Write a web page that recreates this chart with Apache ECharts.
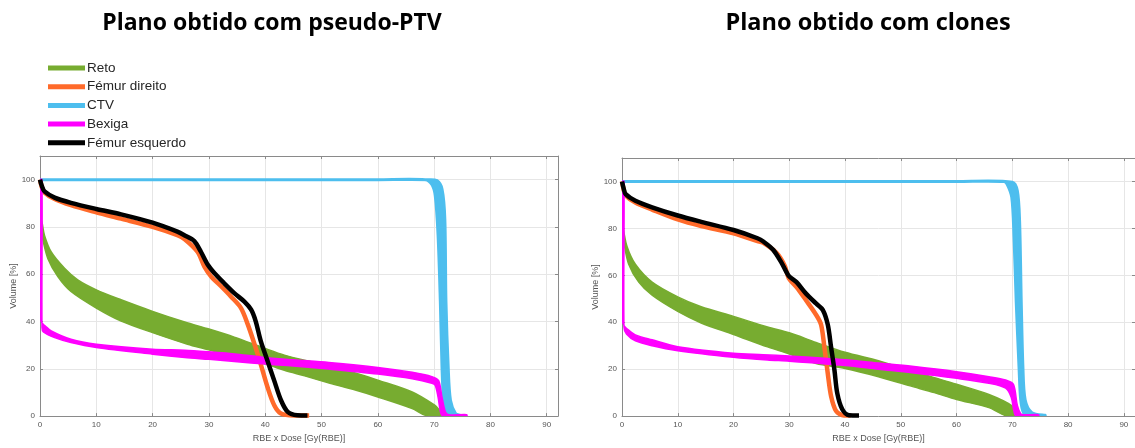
<!DOCTYPE html>
<html>
<head>
<meta charset="utf-8">
<script src="https://cdn.jsdelivr.net/npm/echarts@6/dist/echarts.min.js"></script>
<style>
  html, body { margin: 0; padding: 0; background: #ffffff; }
  #chart { width: 1135px; height: 448px; }
</style>
</head>
<body>
<div id="chart"></div>
<script>
// Panel titles and structure names
const panelTitles = ['Plano obtido com pseudo-PTV', 'Plano obtido com clones'];
const structures = ['Reto', 'Fémur direito', 'CTV', 'Bexiga', 'Fémur esquerdo'];
const xTicks = [0, 10, 20, 30, 40, 50, 60, 70, 80, 90];
const yTicks = [0, 20, 40, 60, 80, 100];

// ---- Plan with pseudo-PTV: [dose Gy(RBE), volume %] ----
// Reto: upper and lower envelope of the scenario band
const ptvRetoUpper = [[0,84],[0.35,82],[0.8,76.4],[2,69.4],[4.4,62.4],[6.7,57.6],[10,53.4],[14.4,49.2],[20,44.3],[25.7,39.8],[30,36.8],[34.5,33.4],[40,28.6],[43.4,25.8],[47,23.6],[51.5,21.2],[56,18.2],[60,15.2],[66.1,10.2],[70.1,4.6],[71,2.4],[71.7,0.4]];
const ptvRetoLower = [[0,79],[0.4,75.5],[1.4,66.6],[3.2,58.9],[5.5,52.7],[10,45.7],[14.4,40.2],[20,35.3],[26.2,30.4],[30,28],[34.5,24.8],[40,22],[43.4,19.4],[47,17],[51.5,13.9],[56,11],[60,8.1],[66.1,3.2],[68.5,0.3]];
// Fémur direito / Fémur esquerdo: narrow bands drawn as thick lines
const ptvFemurDir = [[0,100],[0.3,97],[0.8,94.5],[2.6,91.8],[5.5,89.2],[10,86.2],[14.4,83.5],[20,80],[24.4,76.5],[25.7,74.8],[28,69.4],[29.2,63.2],[30.4,59],[32.2,54.8],[33.9,50.6],[35.7,45.7],[36.9,38.8],[38.1,30.4],[39.2,22],[40.4,12.3],[41.6,4.6],[42.8,1.1],[45.1,0.3],[47.8,0.3]];
const ptvFemurEsq = [[0,100],[0.3,97.5],[0.8,95],[2.6,92.4],[5.5,90.2],[10,87.6],[14.4,85.3],[20,81.8],[24.4,78],[25.7,76.4],[27.4,74],[28.6,69.4],[29.8,64],[31,60.4],[32.7,56.2],[34.5,52],[36.3,48.4],[37.5,45],[38.3,40.2],[39.2,31.8],[40.4,23.4],[41.6,15],[42.8,6.7],[44,1.8],[45.7,0.4],[47.5,0.3]];
// CTV: right (high-dose) and left (low-dose) edges of the band
const ptvCtvUpper = [[0,100],[20,100],[40,100],[60,100],[69,100],[70.5,99.6],[71.4,96],[71.9,83.4],[72.1,48.5],[72.5,20.6],[72.9,6.7],[73.8,1.1],[74.6,0.3]];
const ptvCtvLower = [[0,100],[20,100],[40,100],[60,100],[68.4,100],[69.6,98],[70.2,93.2],[70.7,76.4],[71.1,48.5],[71.4,20.6],[71.7,6.7],[72.3,1.1],[73.2,0]];
// Bexiga
const ptvBexigaUpper = [[0,100],[0,42],[0.3,39.5],[0.9,38.2],[2,36],[5.5,32.5],[10,30.4],[20,28.3],[25.7,27.9],[30,27.2],[35,26.2],[40,24.8],[45,23.8],[51.3,22.7],[60,20.6],[66.1,18.5],[69.6,16.7],[70.8,15],[71.4,8],[72,1.8],[72.6,0.6],[75.8,0.6]];
const ptvBexigaLower = [[0.35,100],[0.35,37.5],[0.6,35.6],[2.6,33.2],[5.5,31.1],[10,29],[20,26.2],[25.7,24.8],[30,24],[35,23],[40,22],[45,21.2],[51.3,19.9],[60,17.8],[66.1,15.8],[69.6,13.9],[70.2,13],[70.7,8],[71.2,1.1],[71.7,0],[75.8,0]];

// ---- Plan with clones ----
const clnRetoUpper = [[0,82],[0.2,80],[0.9,72.3],[2.4,64.7],[5.4,57.1],[10,50.8],[14.2,46.6],[20,42.5],[26.1,38],[30,35.5],[34.8,31.4],[40,27.2],[46,23.6],[51.5,19.5],[56,16.4],[60,13.6],[65.8,9.2],[70,4.3],[71.2,0.3]];
const clnRetoLower = [[0,78],[0.3,74.3],[1.2,64.7],[3,57.1],[5.4,51.5],[10,44.6],[14.2,39.7],[20,34.8],[26.1,29.5],[30,26.5],[34.8,22.4],[40,20.3],[46,16.8],[51.5,13],[56,10],[60,7.1],[65.8,3.6],[68.8,0.2]];
const clnFemurDir = [[0,100],[0.3,96.5],[0.65,94],[2.4,91],[5.4,88],[10,83.8],[14.2,81],[20,77.9],[24.3,74.6],[25.35,73.8],[27.7,69.6],[29.2,64],[29.9,58.8],[31.3,55],[33,49.4],[34.8,43.2],[35.7,39],[36.3,29.3],[36.9,18.2],[37.5,8.5],[38.4,2.2],[39.8,0.3],[41,0.3]];
const clnFemurEsq = [[0,100],[0.3,97],[0.65,94.6],[2.4,91.8],[5.4,89],[10,85.5],[14.2,82.8],[20,79.3],[24.3,75.8],[25.35,74.4],[27.1,70.9],[28.6,65.4],[29.9,59.8],[31.3,57.1],[33,52.2],[34.8,48],[36,45.3],[36.9,39],[37.5,29.3],[38.1,19.6],[38.6,9.8],[39.5,2.9],[40.7,0.4],[42.5,0.3]];
const clnCtvUpper = [[0,100],[20,100],[40,100],[60,100],[70,99.7],[70.9,96],[71.3,83.4],[71.6,48.7],[71.9,20.9],[72.3,7],[73.5,1.5],[75.9,0.3]];
const clnCtvLower = [[0,100],[20,100],[40,100],[60,100],[68.5,100],[69.1,98.7],[69.9,93.2],[70.3,76.4],[70.7,48.5],[71.2,20.9],[71.5,7],[72,1.5],[72.9,0]];
const clnBexigaUpper = [[0,100],[0,41],[0.4,38.5],[1,37],[2.4,34.6],[5.4,32.5],[10,29.6],[20,26.8],[25.3,26.2],[30,25.6],[40,24],[46,22.6],[52,21.2],[60,18.9],[65.8,16.8],[68.8,15.4],[70.2,13.5],[70.9,4.5],[71.5,1],[72,0.6],[74.7,0.6]];
const clnBexigaLower = [[0.35,100],[0.35,38],[0.8,35],[2.4,32.1],[5.4,30],[10,27.9],[20,25.1],[26.1,23.9],[30,23.4],[40,21.6],[46,20],[52,18.5],[60,16.1],[65.8,14],[68.8,11.9],[69.8,8],[70.3,2],[70.7,0],[74.7,0]];

const colors = {
  'Reto': '#77ac30',
  'Fémur direito': '#ff6a2a',
  'CTV': '#4dbeee',
  'Bexiga': '#ff00ff',
  'Fémur esquerdo': '#000000'
};

const chart = echarts.init(document.getElementById('chart'), null, { renderer: 'canvas' });

const gridBox = [
  { left: 40, top: 156, width: 518, height: 263 },
  { left: 622, top: 158, width: 519, height: 264 }
];

const labelFont = 'Liberation Sans, Arial, sans-serif';
const boxColor = '#8a8a8a';

function mainX(gi) {
  return {
    type: 'value', gridIndex: gi, position: 'bottom', min: 0, max: 92, interval: 10,
    name: 'RBE x Dose [Gy(RBE)]', nameLocation: 'middle', nameGap: 13,
    nameTextStyle: { fontFamily: labelFont, fontSize: 9, color: '#555' },
    axisLine: { show: true, onZero: false, lineStyle: { color: boxColor, width: 1 } },
    axisTick: { show: true, inside: true, length: 3, lineStyle: { color: boxColor } },
    axisLabel: { show: true, fontFamily: labelFont, fontSize: 8, color: '#555', margin: 5, showMaxLabel: false,
      formatter: v => (xTicks.indexOf(v) >= 0 ? String(v) : '') },
    splitLine: { show: true, lineStyle: { color: '#e6e6e6', width: 1 } }
  };
}
function sideX(gi) {
  return {
    type: 'value', gridIndex: gi, position: 'top', min: 0, max: 92, interval: 10,
    axisLine: { show: true, onZero: false, lineStyle: { color: boxColor, width: 1 } },
    axisTick: { show: true, inside: true, length: 3, lineStyle: { color: boxColor } },
    axisLabel: { show: false }, splitLine: { show: false }
  };
}
function mainY(gi) {
  return {
    type: 'value', gridIndex: gi, position: 'left', min: 0, max: 110, interval: 20,
    name: 'Volume [%]', nameLocation: 'middle', nameGap: 16,
    nameTextStyle: { fontFamily: labelFont, fontSize: 9, color: '#555' },
    axisLine: { show: true, onZero: false, lineStyle: { color: boxColor, width: 1 } },
    axisTick: { show: true, inside: true, length: 3, lineStyle: { color: boxColor } },
    axisLabel: { show: true, fontFamily: labelFont, fontSize: 8, color: '#555', margin: 5, showMaxLabel: false,
      formatter: v => (yTicks.indexOf(v) >= 0 ? String(v) : '') },
    splitLine: { show: true, lineStyle: { color: '#e6e6e6', width: 1 } }
  };
}
function sideY(gi) {
  return {
    type: 'value', gridIndex: gi, position: 'right', min: 0, max: 110, interval: 20,
    axisLine: { show: true, onZero: false, lineStyle: { color: boxColor, width: 1 } },
    axisTick: { show: true, inside: true, length: 3, lineStyle: { color: boxColor } },
    axisLabel: { show: false }, splitLine: { show: false }
  };
}

// Filled band between two envelope curves, placed through the axes' scales
function bandSeries(name, axisIdx, upper, lower, strokeWidth, z) {
  const outline = upper.concat(lower.slice().reverse());
  return {
    type: 'custom', name: name, coordinateSystem: 'cartesian2d',
    xAxisIndex: axisIdx, yAxisIndex: axisIdx, silent: true, clip: true, z: z,
    data: [[0, 0]],
    renderItem: function (params, api) {
      return {
        type: 'polygon',
        shape: { points: outline.map(p => api.coord(p)), smooth: 0.3 },
        style: { fill: colors[name], stroke: colors[name], lineWidth: strokeWidth, lineJoin: 'round' }
      };
    }
  };
}
function curveSeries(name, axisIdx, pts, width, z) {
  return {
    type: 'line', name: name, xAxisIndex: axisIdx, yAxisIndex: axisIdx,
    data: pts, showSymbol: false, symbol: 'none', silent: true, clip: true, z: z,
    smooth: 0.3,
    lineStyle: { color: colors[name], width: width, join: 'round' },
    itemStyle: { color: colors[name] }
  };
}

function panelSeries(axisIdx, d) {
  return [
    bandSeries('Reto', axisIdx, d.retoU, d.retoL, 1.5, 2),
    curveSeries('Fémur direito', axisIdx, d.femDir, 4.5, 3),
    bandSeries('CTV', axisIdx, d.ctvU, d.ctvL, 3, 4),
    bandSeries('Bexiga', axisIdx, d.bexU, d.bexL, 1.5, 5),
    curveSeries('Fémur esquerdo', axisIdx, d.femEsq, 4.5, 6)
  ];
}

const series = [].concat(
  panelSeries(0, { retoU: ptvRetoUpper, retoL: ptvRetoLower, femDir: ptvFemurDir, ctvU: ptvCtvUpper, ctvL: ptvCtvLower, bexU: ptvBexigaUpper, bexL: ptvBexigaLower, femEsq: ptvFemurEsq }),
  panelSeries(2, { retoU: clnRetoUpper, retoL: clnRetoLower, femDir: clnFemurDir, ctvU: clnCtvUpper, ctvL: clnCtvLower, bexU: clnBexigaUpper, bexL: clnBexigaLower, femEsq: clnFemurEsq })
);

const option = {
  backgroundColor: '#ffffff',
  animation: false,
  grid: gridBox.map(g => Object.assign({ containLabel: false }, g)),
  xAxis: [mainX(0), sideX(0), mainX(1), sideX(1)],
  yAxis: [mainY(0), sideY(0), mainY(1), sideY(1)],
  legend: {
    orient: 'vertical', left: 43, top: 56,
    itemWidth: 37, itemHeight: 5, itemGap: 4.7,
    icon: 'rect',
    selectedMode: false,
    textStyle: { fontFamily: labelFont, fontSize: 13.5, color: '#262626', padding: [0, 0, 0, -3], lineHeight: 14 },
    data: structures.map(n => ({ name: n, icon: 'rect', itemStyle: { color: colors[n] } }))
  },
  graphic: [
    { type: 'text', x: 272, y: 23, silent: true,
      style: { text: panelTitles[0], x: 0, y: 0, align: 'center', verticalAlign: 'middle',
        font: 'bold 23px "Open Sans", sans-serif', fill: '#000' } },
    { type: 'text', x: 868, y: 23, silent: true,
      style: { text: panelTitles[1], x: 0, y: 0, align: 'center', verticalAlign: 'middle',
        font: 'bold 23.5px "Open Sans", sans-serif', fill: '#000' } }
  ],
  series: series
};

chart.setOption(option);
</script>
</body>
</html>
